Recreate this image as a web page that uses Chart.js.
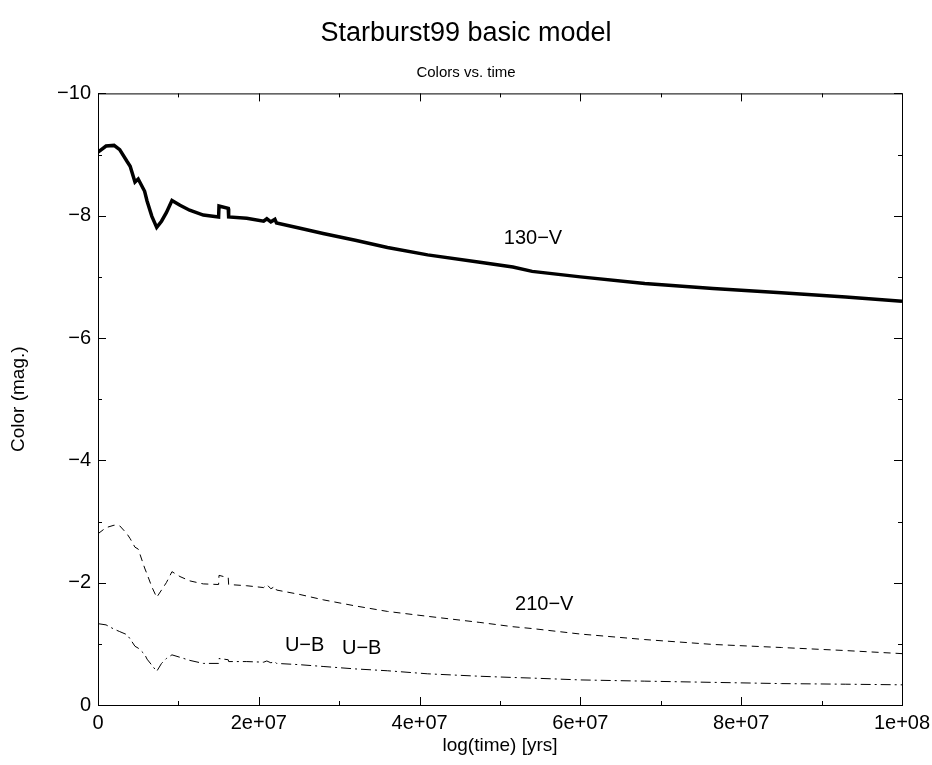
<!DOCTYPE html>
<html>
<head>
<meta charset="utf-8">
<title>Starburst99 basic model</title>
<script src="https://cdn.jsdelivr.net/npm/chart.js@4/dist/chart.umd.min.js"></script>
<style>
  body { margin: 0; background: #fff; }
  #wrap { width: 932px; height: 765px; }
</style>
</head>
<body>
<div id="wrap"><canvas id="chart"></canvas></div>
<script>
// time in years
const times = [
  0, 1e6, 2e6, 2.7e6, 3.6e6, 4.0e6, 4.6e6, 5.0e6, 5.8e6, 6.1e6, 6.7e6, 7.3e6,
  7.9e6, 8.5e6, 9.2e6, 10.2e6, 11.4e6, 13.1e6, 15.0e6, 15.05e6, 16.2e6, 16.25e6,
  18.5e6, 20.6e6, 21.0e6, 21.5e6, 22.0e6, 22.2e6, 25e6, 28e6, 32e6, 36e6, 41e6,
  47.5e6, 51.6e6, 54e6, 60e6, 68e6, 76.5e6, 85e6, 93e6, 100e6
];

const color130V = [
  -9.04, -9.14, -9.15, -9.08, -8.89, -8.81, -8.55, -8.60, -8.40, -8.24, -7.99, -7.81,
  -7.91, -8.05, -8.25, -8.17, -8.09, -8.01, -7.98, -8.16, -8.12, -7.98,
  -7.96, -7.91, -7.95, -7.90, -7.94, -7.88, -7.80, -7.71, -7.60, -7.48, -7.36,
  -7.24, -7.16, -7.09, -7.00, -6.89, -6.81, -6.74, -6.67, -6.60
];

const color210V = [
  -2.80, -2.90, -2.94, -2.93, -2.80, -2.72, -2.58, -2.55, -2.24, -2.14, -1.93, -1.76,
  -1.88, -2.00, -2.18, -2.10, -2.03, -1.98, -1.97, -2.12, -2.08, -1.97,
  -1.95, -1.92, -1.97, -1.90, -1.94, -1.88, -1.81, -1.72, -1.62, -1.53, -1.45,
  -1.35, -1.28, -1.25, -1.16, -1.07, -0.99, -0.94, -0.89, -0.84
];

const colorUB = [
  -1.33, -1.31, -1.24, -1.20, -1.15, -1.08, -0.96, -0.93, -0.83, -0.75, -0.65, -0.55,
  -0.68, -0.76, -0.82, -0.78, -0.73, -0.68, -0.68, -0.76, -0.74, -0.71,
  -0.71, -0.70, -0.72, -0.69, -0.71, -0.68, -0.66, -0.63, -0.59, -0.56, -0.51,
  -0.47, -0.45, -0.44, -0.41, -0.39, -0.37, -0.35, -0.34, -0.33
];

// curve labels placed in data coordinates
const labelTexts = ["130\u2212V", "210\u2212V", "U\u2212B", "U\u2212B"];
const labelX = [54.1e6, 55.5e6, 25.7e6, 32.8e6];
const labelY = [-7.62, -1.64, -0.98, -0.92];

const FONT = "'Liberation Sans', Arial, Helvetica, sans-serif";

function pts(ys) {
  return times.map((t, i) => ({ x: t, y: ys[i] }));
}

function fmtX(v) {
  if (v === 0) return "0";
  return v.toExponential(0).replace(/e([+-])(\d+)$/, (m, s, d) => "e" + s + (d.length < 2 ? "0" + d : d));
}

// frame, inward ticks and curve labels
const framePlugin = {
  id: "frame",
  afterDraw(chart) {
    const { ctx, chartArea: a, scales } = chart;
    const xs = scales.x, ys = scales.y;
    ctx.save();
    ctx.strokeStyle = "#000";
    ctx.lineWidth = 1;
    ctx.strokeRect(a.left + 0.5, a.top + 0.5, a.right - a.left, a.bottom - a.top);
    ctx.beginPath();
    xs.ticks.forEach(t => {
      const px = Math.round(xs.getPixelForValue(t.value)) + 0.5;
      const len = t.value % 2e7 === 0 ? 8 : 4;
      ctx.moveTo(px, a.bottom); ctx.lineTo(px, a.bottom - len);
      ctx.moveTo(px, a.top); ctx.lineTo(px, a.top + len);
    });
    ys.ticks.forEach(t => {
      const py = Math.round(ys.getPixelForValue(t.value)) + 0.5;
      const len = t.value % 2 === 0 ? 8 : 4;
      ctx.moveTo(a.left, py); ctx.lineTo(a.left + len, py);
      ctx.moveTo(a.right, py); ctx.lineTo(a.right - len, py);
    });
    ctx.stroke();

    ctx.fillStyle = "#000";
    ctx.font = "20px " + FONT;
    ctx.textAlign = "center";
    ctx.textBaseline = "middle";
    labelTexts.forEach((txt, i) => {
      ctx.fillText(txt, xs.getPixelForValue(labelX[i]), ys.getPixelForValue(labelY[i]));
    });
    ctx.restore();
  }
};

new Chart(document.getElementById("chart"), {
  type: "line",
  data: {
    datasets: [
      {
        label: "130-V",
        data: pts(color130V),
        borderColor: "#000",
        borderWidth: 3.5,
        pointRadius: 0,
        tension: 0
      },
      {
        label: "210-V",
        data: pts(color210V),
        borderColor: "#000",
        borderWidth: 1,
        borderDash: [7, 5],
        pointRadius: 0,
        tension: 0
      },
      {
        label: "U-B",
        data: pts(colorUB),
        borderColor: "#000",
        borderWidth: 1,
        borderDash: [10, 4, 2, 4],
        pointRadius: 0,
        tension: 0
      }
    ]
  },
  options: {
    responsive: true,
    maintainAspectRatio: false,
    animation: false,
    layout: { padding: { left: 30, right: 30, top: 0, bottom: 0 } },
    plugins: {
      legend: { display: false },
      tooltip: { enabled: false },
      title: {
        display: true,
        text: "Starburst99 basic model",
        color: "#000",
        font: { family: FONT, size: 27, weight: "normal" },
        padding: { top: 17, bottom: 14 }
      },
      subtitle: {
        display: true,
        text: "Colors vs. time",
        color: "#000",
        font: { family: FONT, size: 15, weight: "normal" },
        padding: { top: 0, bottom: 12 }
      }
    },
    scales: {
      x: {
        type: "linear",
        min: 0,
        max: 1e8,
        grid: { display: false, drawTicks: false },
        border: { display: false },
        ticks: {
          stepSize: 1e7,
          autoSkip: false,
          maxRotation: 0,
          color: "#000",
          padding: 6,
          font: { family: FONT, size: 20 },
          callback: v => (v % 2e7 === 0 ? fmtX(v) : "")
        },
        title: {
          display: true,
          text: "log(time) [yrs]",
          color: "#000",
          font: { family: FONT, size: 19 },
          padding: { top: 0, bottom: 8 }
        },
        afterFit: s => { s.height = 60; s.paddingLeft = 0; s.paddingRight = 0; }
      },
      y: {
        type: "linear",
        min: -10,
        max: 0,
        reverse: true,
        grid: { display: false, drawTicks: false },
        border: { display: false },
        ticks: {
          stepSize: 1,
          autoSkip: false,
          color: "#000",
          padding: 7,
          font: { family: FONT, size: 20 },
          callback: v => (v % 2 === 0 ? (v < 0 ? "\u2212" + (-v) : "0") : "")
        },
        title: {
          display: true,
          text: "Color (mag.)",
          color: "#000",
          font: { family: FONT, size: 19 },
          padding: { top: -23, bottom: 0 }
        },
        afterFit: s => { s.width = 68; }
      }
    }
  },
  plugins: [framePlugin]
});
</script>
</body>
</html>
